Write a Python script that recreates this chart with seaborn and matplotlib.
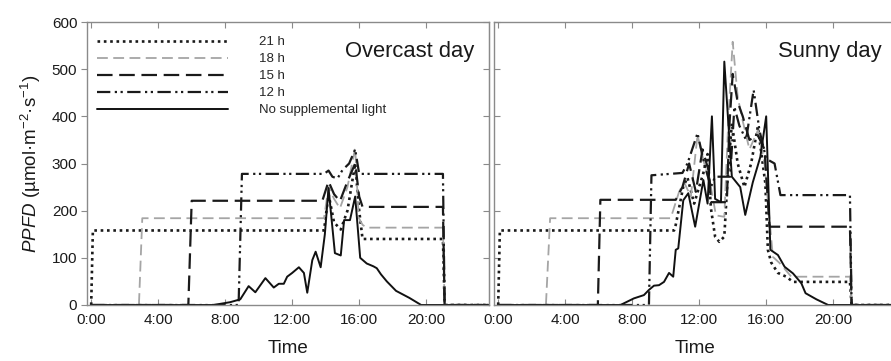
import matplotlib
matplotlib.use("Agg")
import matplotlib.pyplot as plt
import seaborn as sns

# x axis: hour of the day
hour_ticks = [0, 4, 8, 12, 16, 20]
hour_labels = ["0:00", "4:00", "8:00", "12:00", "16:00", "20:00"]
series_labels = ["21 h", "18 h", "15 h", "12 h", "No supplemental light"]
panel_titles = ["Overcast day", "Sunny day"]

# ---- overcast day ----
ov_21h_t = [0, 0.1, 13.9, 14.17, 14.5, 14.9, 15.3, 15.76, 16.0, 16.2, 21.0, 21.1, 24]
ov_21h = [0, 158, 158, 235, 175, 160, 200, 300, 200, 140, 140, 0, 0]
ov_18h_t = [0, 2.85, 3.05, 13.9, 14.17, 14.5, 14.85, 15.3, 15.76, 15.97, 16.2, 16.45, 21.0, 21.1, 24]
ov_18h = [0, 0, 184, 184, 250, 225, 205, 250, 333, 185, 170, 164, 164, 0, 0]
ov_15h_t = [0, 5.8, 6.0, 13.8, 14.17, 14.5, 14.85, 15.3, 15.76, 16.0, 16.2, 21.0, 21.1, 24]
ov_15h = [0, 0, 221, 221, 262, 235, 220, 262, 300, 230, 208, 208, 0, 0]
ov_12h_t = [0, 8.8, 9.0, 13.9, 14.17, 14.4, 14.7, 15.0, 15.4, 15.76, 16.0, 21.0, 21.1, 24]
ov_12h = [0, 0, 278, 278, 285, 272, 268, 286, 300, 330, 278, 278, 0, 0]
ov_nat_t = [0, 7.3, 7.8, 8.3, 8.9, 9.4, 9.8, 10.4, 10.9, 11.2, 11.5, 11.7, 12.0, 12.4,
            12.7, 12.9, 13.2, 13.4, 13.7, 13.95, 14.17, 14.55, 14.9, 15.1, 15.45, 15.76,
            16.06, 16.45, 16.65, 16.85, 17.05, 17.3, 17.65, 18.2, 19.0, 19.7, 24]
ov_nat = [0, 0, 3, 6, 12, 40, 27, 57, 37, 45, 45, 60, 68, 80,
          68, 26, 95, 113, 80, 150, 248, 110, 105, 180, 180, 230,
          100, 88, 85, 82, 78, 65, 50, 30, 15, 0, 0]

# ---- sunny day ----
su_21h_t = [0, 0.1, 10.5, 10.6, 11.05, 11.3, 11.7, 12.25, 12.5, 12.7, 12.95, 13.2, 13.5, 13.7,
            13.95, 14.3, 14.7, 15.1, 15.5, 15.95, 16.1, 16.3, 16.7, 17.2, 17.6, 21.0, 21.1, 24]
su_21h = [0, 158, 158, 170, 251, 270, 215, 280, 320, 205, 145, 134, 145, 272,
          385, 300, 250, 300, 378, 258, 117, 90, 68, 60, 49, 49, 0, 0]
su_18h_t = [0, 2.85, 3.1, 10.3, 10.8, 11.1, 11.5, 11.9, 12.3, 12.7, 13.0, 13.5, 13.75, 14.0,
            14.3, 14.6, 15.0, 15.5, 15.9, 16.4, 16.8, 17.5, 21.0, 21.1, 24]
su_18h = [0, 0, 184, 184, 240, 260, 230, 360, 300, 250, 190, 187, 400, 558,
          441, 390, 330, 370, 300, 102, 89, 60, 60, 0, 0]
su_15h_t = [0, 5.95, 6.1, 10.6, 11.0, 11.4, 11.8, 12.2, 12.6, 12.7, 13.65, 13.8, 14.0, 14.3,
            14.6, 15.0, 15.5, 15.9, 16.2, 21.0, 21.1, 24]
su_15h = [0, 0, 223, 223, 250, 300, 240, 330, 280, 218, 218, 380, 490, 430,
          400, 350, 360, 330, 166, 166, 0, 0]
su_12h_t = [0, 9.0, 9.15, 11.0, 11.3, 11.9, 12.3, 12.7, 12.95, 13.85, 14.1, 14.4, 14.8, 15.25,
            15.6, 16.0, 16.5, 16.85, 21.0, 21.1, 24]
su_12h = [0, 0, 275, 280, 300, 364, 300, 250, 272, 272, 420, 380, 350, 456,
          370, 310, 300, 233, 233, 0, 0]
su_nat_t = [0, 7.3, 8.1, 8.7, 9.0, 9.3, 9.6, 9.9, 10.2, 10.45, 10.6, 10.75, 11.05, 11.35,
            11.76, 12.25, 12.5, 12.76, 12.95, 13.3, 13.5, 13.95, 14.45, 14.75, 15.2, 15.65,
            16.0, 16.25, 16.7, 17.1, 17.6, 18.1, 18.35, 19.0, 19.7, 24]
su_nat = [0, 0, 14, 21, 32, 41, 42, 49, 68, 60, 117, 120, 222, 237,
          166, 265, 215, 400, 225, 218, 516, 272, 250, 191, 260, 314,
          400, 117, 106, 81, 67, 46, 25, 12, 0, 0]

sns.set_style("ticks")
plt.rcParams["font.family"] = ["Liberation Sans", "DejaVu Sans"]
plt.rcParams["mathtext.fontset"] = "custom"
plt.rcParams["mathtext.rm"] = "Liberation Sans"
plt.rcParams["mathtext.it"] = "Liberation Sans:italic"

# line style per series: colour, width, dash pattern
styles = [
    ("#1a1a1a", 1.9, (0, (1, 1.4))),
    ("#a5a5a5", 1.3, (0, (6, 3))),
    ("#1a1a1a", 1.6, (0, (7, 3))),
    ("#1a1a1a", 1.6, (0, (6, 2, 1, 1.6, 1, 2))),
    ("#111111", 1.4, "-"),
]
panels = [
    [(ov_21h_t, ov_21h), (ov_18h_t, ov_18h), (ov_15h_t, ov_15h), (ov_12h_t, ov_12h), (ov_nat_t, ov_nat)],
    [(su_21h_t, su_21h), (su_18h_t, su_18h), (su_15h_t, su_15h), (su_12h_t, su_12h), (su_nat_t, su_nat)],
]

fig = plt.figure(figsize=(8.91, 3.61), dpi=100)
ax1 = fig.add_axes([87 / 891, 56 / 361, 402 / 891, 283 / 361])
ax2 = fig.add_axes([494 / 891, 56 / 361, 402 / 891, 283 / 361])
spine_col = "#8a8a8a"

for i, ax in enumerate([ax1, ax2]):
    for (t, v), (col, lw, ls), lab in zip(panels[i], styles, series_labels):
        sns.lineplot(x=t, y=v, ax=ax, color=col, linewidth=lw, linestyle=ls,
                     sort=False, estimator=None, label=lab if i == 0 else None)
    ax.set_xlim(-0.25, 23.75)
    ax.set_ylim(0, 600)
    ax.set_xticks(hour_ticks)
    ax.set_xticklabels(hour_labels)
    ax.set_yticks([0, 100, 200, 300, 400, 500, 600])
    for s in ax.spines.values():
        s.set_visible(True)
        s.set_color(spine_col)
        s.set_linewidth(1.0)
    ax.tick_params(axis="x", direction="in", top=True, bottom=True, length=4,
                   color=spine_col, labelsize=11, pad=6, labelcolor="#1a1a1a")
    ax.set_xlabel("Time", fontsize=13.5, labelpad=9, color="#1a1a1a")
    ax.text(0.963, 0.894, panel_titles[i], transform=ax.transAxes, ha="right",
            va="center", fontsize=15.8, color="#1a1a1a")

ax1.tick_params(axis="y", direction="out", length=4, color=spine_col,
                labelsize=11, pad=3, labelcolor="#1a1a1a")
sec = ax1.secondary_yaxis("right")
sec.set_yticks([0, 100, 200, 300, 400, 500, 600])
sec.tick_params(direction="in", length=4, color=spine_col, labelright=False)
sec.spines["right"].set_color(spine_col)
ax1.set_ylabel(r"$\it{PPFD}$ (µmol·m$^{-2}$·s$^{-1}$)", fontsize=13.5, labelpad=6, color="#1a1a1a")

ax2.tick_params(axis="y", direction="in", length=4, color=spine_col, labelleft=False)
ax2.set_ylabel("")

leg = ax1.legend(loc="upper left", bbox_to_anchor=(0.025, 0.95), frameon=False,
                 fontsize=9.5, handlelength=9.9, handletextpad=2.4,
                 labelspacing=0.36, borderpad=0, borderaxespad=0)

fig.savefig("out.png", dpi=100)
